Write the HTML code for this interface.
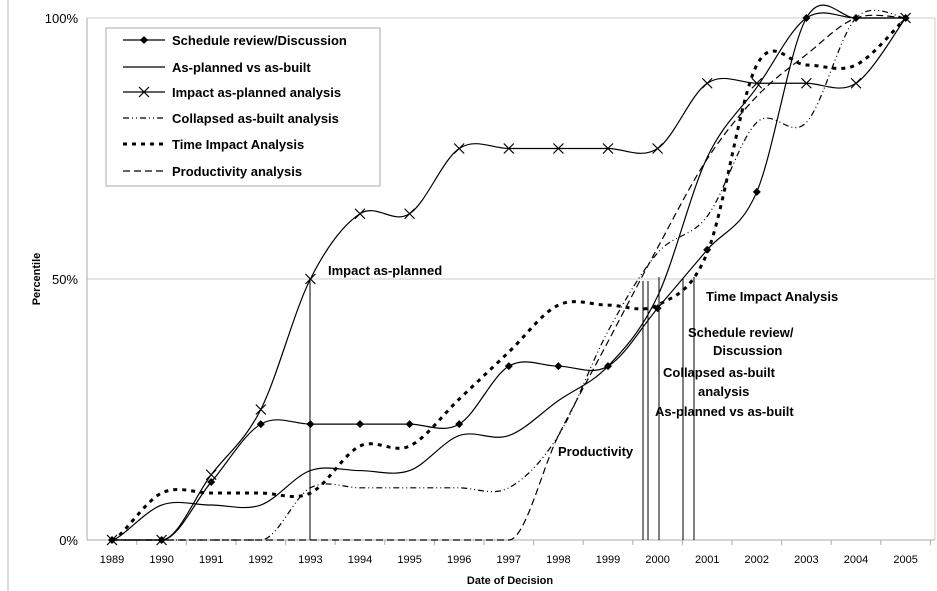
<!DOCTYPE html>
<html><head><meta charset="utf-8"><style>
body{margin:0;background:#fff;}
svg{display:block;font-family:"Liberation Sans",Arial,sans-serif;}
.b{font-weight:bold;font-size:13px;fill:#000}
</style></head><body>
<svg id="s" width="937" height="591" xmlns="http://www.w3.org/2000/svg">
<line x1="8" y1="0" x2="8" y2="591" stroke="#bbb"/>
<line x1="935" y1="18" x2="935" y2="540" stroke="#ccc"/>
<line x1="87" y1="18" x2="935" y2="18" stroke="#ccc"/>
<line x1="87" y1="279" x2="935" y2="279" stroke="#ccc"/>
<line x1="87" y1="18" x2="87" y2="540" stroke="#aaa"/>
<line x1="87" y1="540" x2="935" y2="540" stroke="#aaa"/>
<g font-size="13" fill="#000" text-anchor="end">
<text x="78" y="23">100%</text><text x="78" y="284">50%</text><text x="78" y="545">0%</text>
</g>
<g id="xt" font-size="11" text-anchor="middle"></g>
<text x="510" y="584" text-anchor="middle" font-size="11" font-weight="bold">Date of Decision</text>
<text x="40" y="279" text-anchor="middle" font-size="11" font-weight="bold" transform="rotate(-90 40 279)">Percentile</text>
<g id="series"></g>
<g stroke="#000" stroke-width="1">
<line x1="310" y1="540" x2="310" y2="279"/>
<line x1="643" y1="540" x2="643" y2="281"/>
<line x1="648" y1="540" x2="648" y2="281"/>
<line x1="659" y1="540" x2="659" y2="277"/>
<line x1="683" y1="540" x2="683" y2="279"/>
<line x1="694" y1="540" x2="694" y2="277"/>
</g>
<text class="b" x="328" y="275">Impact as-planned</text>
<text class="b" x="706" y="301">Time Impact Analysis</text>
<text class="b" x="688" y="337">Schedule review/</text>
<text class="b" x="713" y="355">Discussion</text>
<text class="b" x="663" y="377">Collapsed as-built</text>
<text class="b" x="698" y="396">analysis</text>
<text class="b" x="655" y="416">As-planned vs as-built</text>
<text class="b" x="558" y="456">Productivity</text>
<rect x="106" y="28" width="274" height="158" fill="#fff" stroke="#aaa"/>
<g id="leg"></g>
</svg>
<script>
var X=function(yr){return 112+49.6*(yr-1989)},Y=function(p){return 540-5.22*p};
var ns="http://www.w3.org/2000/svg";
function el(t,a,par){var e=document.createElementNS(ns,t);for(var k in a)e.setAttribute(k,a[k]);document.getElementById(par).appendChild(e);return e;}
for(var yr=1989;yr<=2005;yr++){var t=el('text',{x:X(yr),y:563},'xt');t.textContent=yr;el('line',{x1:X(yr)+24.8,y1:540,x2:X(yr)+24.8,y2:545,stroke:'#aaa'},'xt');}
function path(d){var pts=d.map(function(v,i){return[X(1989+i),Y(v)]});var s='M'+pts[0][0]+','+pts[0][1];
for(var i=0;i<pts.length-1;i++){var p0=pts[i-1]||pts[i],p1=pts[i],p2=pts[i+1],p3=pts[i+2]||p2;var k=6;
var c1y=p1[1]+(p2[1]-p0[1])/k,c2y=p2[1]-(p3[1]-p1[1])/k;
if(p0[1]==p1[1]&&p1[1]==540)c1y=p1[1];
if(p1[1]==p2[1]&&p1[1]==540){c1y=540;c2y=540;}
s+=' C'+(p1[0]+(p2[0]-p0[0])/k)+','+c1y+' '+(p2[0]-(p3[0]-p1[0])/k)+','+c2y+' '+p2[0]+','+p2[1];}return s;}
var S=[
{d:[0,0,11.1,22.2,22.2,22.2,22.2,22.2,33.3,33.3,33.3,44.4,55.6,66.7,100,100,100],st:{},m:'d'},
{d:[0,6.7,6.7,6.7,13.3,13.3,13.3,20,20,26.7,33.3,46.7,73.3,86.7,100,100,100],st:{}},
{d:[0,0,12.5,25,50,62.5,62.5,75,75,75,75,75,87.5,87.5,87.5,87.5,100],st:{},m:'x'},
{d:[0,0,0,0,10,10,10,10,10,20,40,55,62,80,80,100,100],st:{'stroke-dasharray':'6,3,1,3,1,3'}},
{d:[0,9,9,9,9,18,18,27,36,45,45,45,55,91,91,91,100],st:{'stroke-dasharray':'4,5','stroke-width':3}},
{d:[0,0,0,0,0,0,0,0,0,20,38,56,73,85,93,100,100],st:{'stroke-dasharray':'7,4'}}
];
var names=['Schedule review/Discussion','As-planned vs as-built','Impact as-planned analysis','Collapsed as-built analysis','Time Impact Analysis','Productivity analysis'];
var ly=[40,67,92,118,144,171];
S.forEach(function(s,i){
 var a={d:path(s.d),fill:'none',stroke:'#000','stroke-width':1.2};for(var k in s.st)a[k]=s.st[k];el('path',a,'series');
 var b={x1:123,y1:ly[i],x2:165,y2:ly[i],stroke:'#000','stroke-width':1.2};for(var k in s.st)b[k]=s.st[k];el('line',b,'leg');
 var t=el('text',{x:172,y:ly[i]+5,'font-size':13,'font-weight':'bold'},'leg');t.textContent=names[i];
 function mk(x,y,par){if(s.m=='d')el('path',{d:'M'+x+','+(y-4)+'L'+(x+4)+','+y+'L'+x+','+(y+4)+'L'+(x-4)+','+y+'Z',fill:'#000'},par);
 if(s.m=='x')el('path',{d:'M'+(x-5)+','+(y-5)+'L'+(x+5)+','+(y+5)+'M'+(x+5)+','+(y-5)+'L'+(x-5)+','+(y+5),stroke:'#000','stroke-width':1.2},par);}
 if(s.m){s.d.forEach(function(v,j){mk(X(1989+j),Y(v),'series')});mk(144,ly[i],'leg');}
});
</script>
</body></html>
